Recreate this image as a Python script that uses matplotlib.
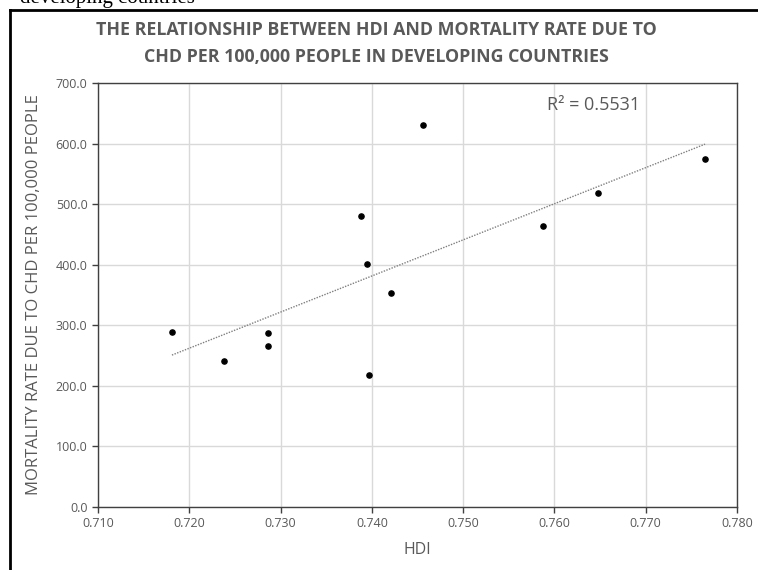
import numpy as np
import matplotlib
matplotlib.use("Agg")
import matplotlib.pyplot as plt
from matplotlib.lines import Line2D

# data
hdi = [0.7181, 0.7238, 0.7286, 0.7286, 0.7388, 0.7395, 0.7397, 0.7421,
       0.7456, 0.7588, 0.7648, 0.7765]
mortality = [289.4, 241.5, 287.8, 265.8, 480.4, 401.2, 217.9, 353.8,
             630.7, 463.9, 518.9, 574.0]
x_ticks = [0.710, 0.720, 0.730, 0.740, 0.750, 0.760, 0.770, 0.780]
y_ticks = [0, 100, 200, 300, 400, 500, 600, 700]

title_1 = "THE RELATIONSHIP BETWEEN HDI AND MORTALITY RATE DUE TO"
title_2 = "CHD PER 100,000 PEOPLE IN DEVELOPING COUNTRIES"
r2_label = "R² = 0.5531"

gray = "#595959"
plt.rcParams['font.family'] = ['Open Sans', 'DejaVu Sans']

fig = plt.figure(figsize=(7.58, 5.70), dpi=100)
fig.patch.set_facecolor("white")

# cut-off caption above the chart box (only its lower part shows)
fig.text(0.027, 1 - 3/570, "developing countries", family="Liberation Serif",
         fontsize=15, color="black", ha="left", va="baseline")

# border of the pasted chart (only left and top visible)
fig.add_artist(Line2D([10/758, 10/758], [0, 1 - 10/570], color="black", lw=2,
                      transform=fig.transFigure))
fig.add_artist(Line2D([10/758, 1], [1 - 10/570, 1 - 10/570], color="black", lw=2,
                      transform=fig.transFigure))

ax = fig.add_axes([98/758, 63/570, 639/758, 424/570])

ax.scatter(hdi, mortality, s=14, color="black", zorder=3)

# linear trendline
coef = np.polyfit(hdi, mortality, 1)
xs = np.array([min(hdi), max(hdi)])
ax.plot(xs, np.polyval(coef, xs), color="#7f7f7f", lw=1, ls=(0, (1, 1)), zorder=2)

ax.set_xlim(0.710, 0.780)
ax.set_ylim(0, 700)
ax.set_xticks(x_ticks)
ax.set_yticks(y_ticks)
ax.set_xticklabels([f"{v:.3f}" for v in x_ticks])
ax.set_yticklabels([f"{v:.1f}" for v in y_ticks])
ax.grid(True, color="#d9d9d9", lw=1)
ax.set_axisbelow(True)
for sp in ax.spines.values():
    sp.set_color("#404040")
    sp.set_linewidth(1)
ax.tick_params(colors=gray, labelsize=9, length=4, width=1, direction="out")
ax.tick_params(axis="both", color="#404040")

ax.set_xlabel("HDI", fontsize=11.5, color=gray, labelpad=8)
ax.set_ylabel("MORTALITY RATE DUE TO CHD PER 100,000 PEOPLE", fontsize=12,
              color=gray, labelpad=10)

ax.text(0.703, 0.948, r2_label, transform=ax.transAxes, fontsize=13,
        color=gray, ha="left", va="center")

fig.text(0.497, 1 - 30/570, title_1, fontsize=12.8, fontweight="bold", color=gray,
         ha="center", va="center")
fig.text(0.497, 1 - 57/570, title_2, fontsize=12.8, fontweight="bold", color=gray,
         ha="center", va="center")

fig.savefig("out.png", dpi=100)
